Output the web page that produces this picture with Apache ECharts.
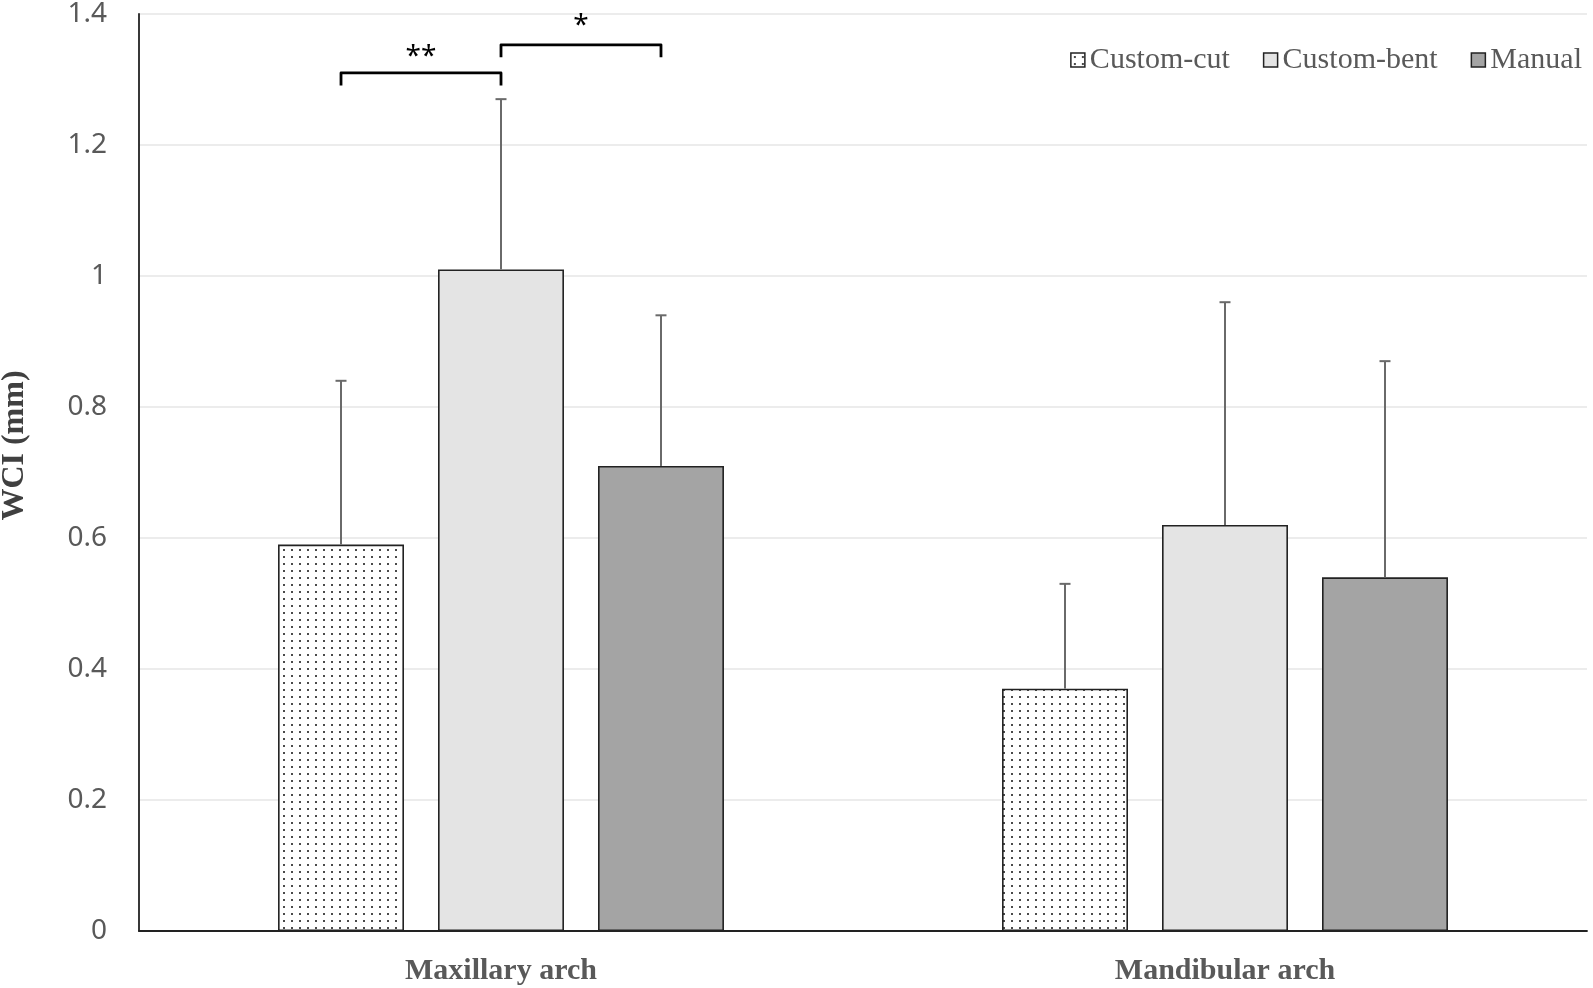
<!DOCTYPE html>
<html>
<head>
<meta charset="utf-8">
<script src="https://cdn.jsdelivr.net/npm/echarts@6/dist/echarts.min.js"></script>
<style>
html,body{margin:0;padding:0;background:#fff;}
#chart{width:1593px;height:988px;}
</style>
</head>
<body>
<div id="chart"></div>
<script>
// ---- data ----
const categories = ['Maxillary arch', 'Mandibular arch'];
const seriesNames = ['Custom-cut', 'Custom-bent', 'Manual'];
const customCutMean = [0.59, 0.37];
const customBentMean = [1.01, 0.62];
const manualMean = [0.71, 0.54];
const customCutSD = [0.25, 0.16];
const customBentSD = [0.26, 0.34];
const manualSD = [0.23, 0.33];
const yTicks = [0, 0.2, 0.4, 0.6, 0.8, 1, 1.2, 1.4];
// significance brackets: category, from series, to series, bracket level, leg end, label, label level
const sigCategory = [0, 0];
const sigFrom = [0, 1];
const sigTo = [1, 2];
const sigLevel = [1.310, 1.353];
const sigLegEnd = [1.291, 1.334];
const sigLabel = ['**', '*'];
const sigLabelLevel = [1.334, 1.382];

// ---- style ----
const BAR_FRAC = 0.174;
const GAP_FRAC = 0.27;
const means = [customCutMean, customBentMean, manualMean];
const sds = [customCutSD, customBentSD, manualSD];

const pc = document.createElement('canvas');
pc.width = 8; pc.height = 7;
const pctx = pc.getContext('2d');
pctx.fillStyle = '#ffffff';
pctx.fillRect(0, 0, 8, 7);
pctx.fillStyle = '#4a4a4a';
pctx.fillRect(3, 3, 2, 2);
const dotPattern = { image: pc, repeat: 'repeat' };

const fills = [dotPattern, '#e4e4e4', '#a4a4a4'];

function offsetFor(api, sIdx) {
  const bw = api.size([1, 0])[0];
  return (sIdx - 1) * bw * BAR_FRAC * (1 + GAP_FRAC);
}

const chart = echarts.init(document.getElementById('chart'), null, {renderer: 'canvas'});

const series = [];
seriesNames.forEach((name, i) => {
  series.push({
    name: name,
    type: 'bar',
    data: means[i],
    barWidth: (BAR_FRAC * 100) + '%',
    barGap: (GAP_FRAC * 100) + '%',
    itemStyle: { color: fills[i], borderColor: '#222', borderWidth: 1.6 },
    z: 2
  });
});
seriesNames.forEach((name, i) => {
  series.push({
    type: 'custom',
    name: name + ' err',
    data: means[i].map((m, c) => [c, m, sds[i][c]]),
    encode: { x: 0, y: 1 },
    z: 3,
    renderItem: function (params, api) {
      const c = api.value(0), m = api.value(1), sd = api.value(2);
      const off = offsetFor(api, i);
      const p0 = api.coord([c, m]);
      const p1 = api.coord([c, m + sd]);
      const x = p0[0] + off;
      const st = { stroke: '#6a6a6a', lineWidth: 2 };
      return {
        type: 'group',
        children: [
          { type: 'line', shape: { x1: x, y1: p0[1], x2: x, y2: p1[1] }, style: st },
          { type: 'line', shape: { x1: x - 5.5, y1: p1[1], x2: x + 5.5, y2: p1[1] }, style: st }
        ]
      };
    }
  });
});
series.push({
  type: 'custom',
  name: 'sig',
  data: sigLevel.map((v, k) => [sigCategory[k], v]),
  encode: { x: 0, y: 1 },
  z: 4,
  renderItem: function (params, api) {
    const k = params.dataIndex;
    const c = sigCategory[k];
    const pTop = api.coord([c, sigLevel[k]]);
    const pLeg = api.coord([c, sigLegEnd[k]]);
    const pLab = api.coord([c, sigLabelLevel[k]]);
    const xa = pTop[0] + offsetFor(api, sigFrom[k]);
    const xb = pTop[0] + offsetFor(api, sigTo[k]);
    return {
      type: 'group',
      children: [
        { type: 'polyline',
          shape: { points: [[xa, pLeg[1]], [xa, pTop[1]], [xb, pTop[1]], [xb, pLeg[1]]] },
          style: { stroke: '#000', lineWidth: 2.8, fill: null, lineJoin: 'round', lineCap: 'butt' } },
        { type: 'text',
          style: { text: sigLabel[k], x: (xa + xb) / 2, y: pLab[1], align: 'center', verticalAlign: 'middle',
                   fill: '#000', font: '28px "Noto Sans", sans-serif' } }
      ]
    };
  }
});

chart.setOption({
  animation: false,
  backgroundColor: '#fff',
  grid: { left: 139, right: 6, top: 14, bottom: 57, containLabel: false, outerBoundsMode: 'none' },
  legend: {
    data: seriesNames,
    right: 6,
    top: 40,
    itemWidth: 14,
    itemHeight: 14,
    itemGap: 33,
    icon: 'rect',
    textStyle: { fontFamily: '"Liberation Serif", serif', fontSize: 30, color: '#595959' },
    itemStyle: { borderColor: '#222', borderWidth: 1.5 }
  },
  xAxis: {
    type: 'category',
    data: categories,
    axisLine: { lineStyle: { color: '#222', width: 1.8 } },
    axisTick: { show: false },
    axisLabel: { fontFamily: '"Liberation Serif", serif', fontWeight: 'bold', fontSize: 30, color: '#595959', margin: 25 }
  },
  yAxis: {
    type: 'value',
    min: yTicks[0],
    max: yTicks[yTicks.length - 1],
    interval: yTicks[1] - yTicks[0],
    name: 'WCI (mm)',
    nameLocation: 'middle',
    nameGap: 108,
    nameTextStyle: { fontFamily: '"Liberation Serif", serif', fontWeight: 'bold', fontSize: 32, color: '#404040',
                     padding: [0, 0, 0, 54] },
    axisLine: { show: true, lineStyle: { color: '#222', width: 1.8 } },
    axisTick: { show: false },
    splitLine: { lineStyle: { color: '#e6e6e6', width: 1.5 } },
    axisLabel: { fontFamily: '"Noto Sans", sans-serif', fontSize: 28, color: '#595959', margin: 32 }
  },
  series: series
});
</script>
</body>
</html>
